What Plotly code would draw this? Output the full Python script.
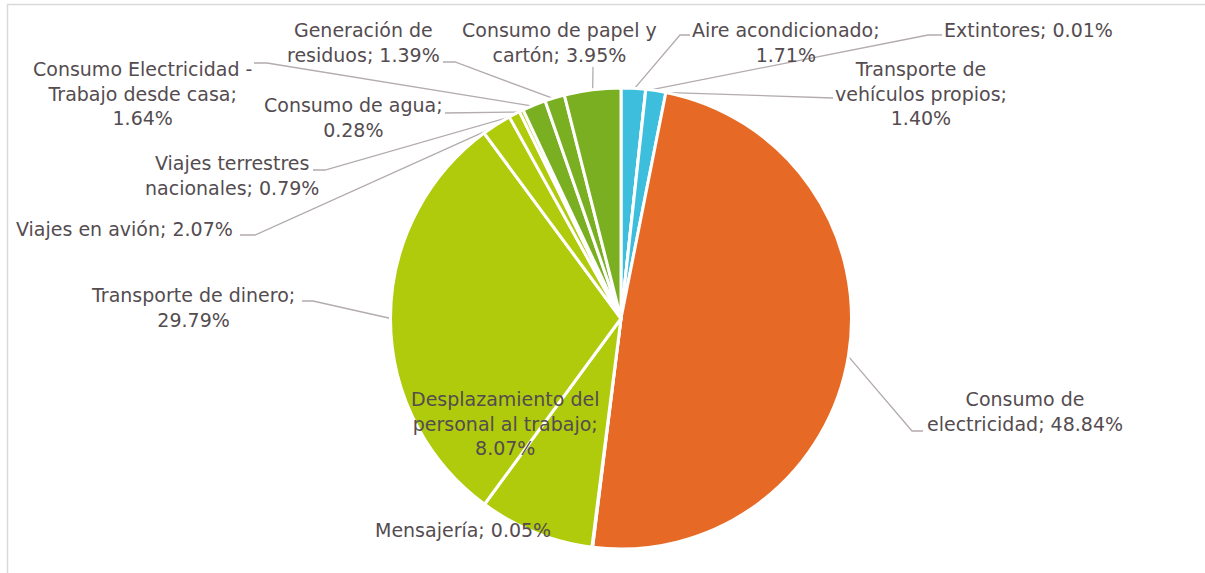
import math
import plotly.graph_objects as go

# ---- data ----
categories = [
    "Aire acondicionado", "Extintores", "Transporte de vehículos propios",
    "Consumo de electricidad", "Mensajería", "Desplazamiento del personal al trabajo",
    "Transporte de dinero", "Viajes en avión", "Viajes terrestres nacionales",
    "Consumo de agua", "Consumo Electricidad - Trabajo desde casa",
    "Generación de residuos", "Consumo de papel y cartón",
]
values = [1.71, 0.01, 1.40, 48.84, 0.05, 8.07, 29.79, 2.07, 0.79, 0.28, 1.64, 1.39, 3.95]
label_text = [
    "Aire acondicionado;<br>1.71%",
    "Extintores; 0.01%",
    "Transporte de<br>vehículos propios;<br>1.40%",
    "Consumo de<br>electricidad; 48.84%",
    "Mensajería; 0.05%",
    "Desplazamiento del<br>personal al trabajo;<br>8.07%",
    "Transporte de dinero;<br>29.79%",
    "Viajes en avión; 2.07%",
    "Viajes terrestres<br>nacionales; 0.79%",
    "Consumo de agua;<br>0.28%",
    "Consumo Electricidad -<br>Trabajo desde casa;<br>1.64%",
    "Generación de<br>residuos; 1.39%",
    "Consumo de papel y<br>cartón; 3.95%",
]

# ---- styling / layout ----
BLUE, ORANGE, LIME, GREEN = "#3CBEDC", "#E66A26", "#AFCB0C", "#7AAF21"
colors = [BLUE, BLUE, BLUE, ORANGE, LIME, LIME, LIME, LIME, LIME, LIME, GREEN, GREEN, GREEN]
W, H = 1205, 573
CX, CY, R = 621.0, 318.5, 230.5
TEXT_COLOR = "#544C50"
LINE_COLOR = "#B3ABAE"
FONT = "DejaVu Sans"
FS = 19

# label centres (screen pixels) and leader-line waypoints (label side), None = no leader
label_pos = [
    (786, 42), (1028, 30), (921, 93), (1025, 411), (463, 530), (505, 423),
    (193, 307), (124, 229), (232, 175), (353, 117), (142, 93), (363, 42), (559, 42),
]
leader_pts = [
    [(680, 35), (690, 35)],
    [(928, 35), (942, 35)],
    [(800, 97), (833, 98)],
    [(912, 431), (923, 431)],
    None,
    None,
    [(313, 301), (302, 301)],
    [(255, 235), (240, 235)],
    [(325, 170), (313, 170)],
    [(455, 113), (445, 113)],
    [(267, 63), (254, 63)],
    [(455, 62), (443, 62)],
    [(593, 67)],
]

fig = go.Figure()

# leader lines, anchored at each slice's mid-angle on the pie edge
total = sum(values)
cum = 0.0
for v, pts in zip(values, leader_pts):
    mid = (cum + v / 2) / total
    cum += v
    if pts is None:
        continue
    ang = 2 * math.pi * mid
    r_edge = R - 1.5
    px, py = CX + r_edge * math.sin(ang), CY - r_edge * math.cos(ang)
    xs = [px] + [p[0] for p in pts]
    ys = [py] + [p[1] for p in pts]
    fig.add_trace(go.Scatter(x=xs, y=ys, mode="lines",
                             line=dict(color=LINE_COLOR, width=1.3),
                             hoverinfo="skip", showlegend=False))

fig.add_trace(go.Pie(
    labels=categories, values=values, sort=False, direction="clockwise", rotation=0,
    marker=dict(colors=colors, line=dict(color="white", width=3)),
    textinfo="none", hoverinfo="label+percent", showlegend=False,
    domain=dict(x=[(CX - R) / W, (CX + R) / W], y=[(H - CY - R) / H, (H - CY + R) / H]),
))

for txt, (lx, ly) in zip(label_text, label_pos):
    fig.add_annotation(x=lx, y=ly, xref="x", yref="y", text=txt, showarrow=False,
                       xanchor="center", yanchor="middle", align="center",
                       font=dict(family=FONT, size=FS, color=TEXT_COLOR))

# chart frame (top and left edges visible)
fig.add_shape(type="rect", xref="paper", yref="paper",
              x0=7.5 / W, y1=1 - 4.5 / H, x1=1.05, y0=-0.05,
              line=dict(color="#D9D9D9", width=1.5), layer="below")

fig.update_layout(
    width=W, height=H, margin=dict(l=0, r=0, t=0, b=0),
    paper_bgcolor="white", plot_bgcolor="white",
    xaxis=dict(range=[0, W], visible=False, fixedrange=True),
    yaxis=dict(range=[H, 0], visible=False, fixedrange=True),
)

fig.write_html("out.html", config={"displayModeBar": False},
               post_script="document.body.style.margin='0';")
